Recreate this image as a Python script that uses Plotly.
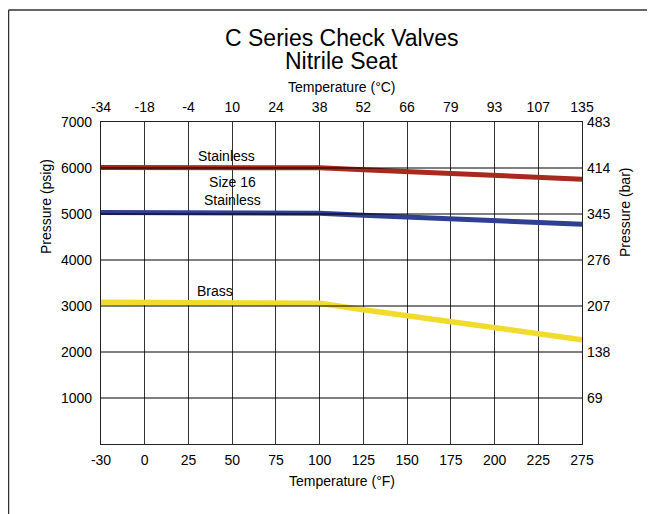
import plotly.graph_objects as go

# ---- data ----
temps_f = ["-30", "0", "25", "50", "75", "100", "125", "150", "175", "200", "225", "275"]
temps_c = ["-34", "-18", "-4", "10", "24", "38", "52", "66", "79", "93", "107", "135"]
psig_ticks = [1000, 2000, 3000, 4000, 5000, 6000, 7000]
bar_labels = ["69", "138", "207", "276", "345", "414", "483"]

stainless = [6010, 6010, 6010, 6010, 6010, 6005, 5963, 5922, 5880, 5838, 5797, 5755]
size16_stainless = [5032, 5032, 5031, 5030, 5028, 5015, 4975, 4936, 4896, 4857, 4817, 4778]
brass = [3080, 3075, 3070, 3066, 3062, 3058, 2920, 2785, 2650, 2515, 2390, 2268]

OFF = 8  # default page body margin
W, H = 655 - OFF, 514 - OFF
L, T = 101 - OFF, 122 - OFF
pw, ph = 481, 322
R, B = W - L - pw, H - T - ph

def px(x):  # page pixel -> paper x
    return (x - OFF - L) / pw

def py(y):  # page pixel -> paper y
    return (T + ph - (y - OFF)) / ph

FONT = "Liberation Sans, Arial, Helvetica, sans-serif"
FS = 14

fig = go.Figure()
fig.add_trace(go.Scatter(x=temps_f, y=brass, mode="lines", name="Brass",
                         line=dict(color="#F1DC2E", width=5.5), hoverinfo="skip"))
fig.add_trace(go.Scatter(x=temps_f, y=size16_stainless, mode="lines", name="Size 16 Stainless",
                         line=dict(color="#2F3F92", width=5), hoverinfo="skip"))
fig.add_trace(go.Scatter(x=temps_f, y=stainless, mode="lines", name="Stainless",
                         line=dict(color="#A8291D", width=5), hoverinfo="skip"))
# invisible helper trace so the secondary (°C / bar) axes render
fig.add_trace(go.Scatter(x=list(range(len(temps_c))), y=stainless, xaxis="x2", yaxis="y2",
                         mode="lines", line=dict(width=0), hoverinfo="skip", showlegend=False))

n = len(temps_f)
tf = dict(family=FONT, size=FS, color="black")

fig.update_layout(
    width=W, height=H,
    margin=dict(l=L, r=R, t=T, b=B, pad=0, autoexpand=False),
    paper_bgcolor="white", plot_bgcolor="white",
    showlegend=False,
    font=dict(family=FONT, size=FS, color="black"),
    xaxis=dict(type="category", categoryorder="array", categoryarray=temps_f,
               range=[0, n - 1], showgrid=True, gridcolor="#333", gridwidth=1.2,
               showline=True, linecolor="#222", linewidth=1.3, mirror=True, ticks="",
               zeroline=False, tickfont=tf, automargin=False, ticklabelstandoff=3),
    yaxis=dict(range=[0, 7000], tickvals=psig_ticks, showgrid=False,
               showline=True, linecolor="#222", linewidth=1.3, mirror=True, ticks="",
               zeroline=False, tickfont=tf, automargin=False, ticklabelstandoff=5),
    xaxis2=dict(overlaying="x", side="top", anchor="y", range=[0, n - 1],
                tickvals=list(range(len(temps_c))), ticktext=temps_c,
                showgrid=False, showline=False, ticks="", zeroline=False,
                tickfont=tf, automargin=False, ticklabelstandoff=6),
    yaxis2=dict(overlaying="y", side="right", anchor="x", range=[0, 7000],
                tickvals=psig_ticks, ticktext=bar_labels, showgrid=False,
                showline=False, ticks="", zeroline=False,
                tickfont=tf, automargin=False, ticklabelstandoff=4),
)

shapes = []
# horizontal grid lines drawn above the series
for v in psig_ticks[:-1]:
    shapes.append(dict(type="line", xref="paper", yref="y", x0=0, x1=1, y0=v, y1=v,
                       line=dict(color="black", width=1), layer="above"))
# outer frame (top + left edges)
shapes.append(dict(type="line", xref="paper", yref="paper", x0=px(8.5), x1=px(700),
                   y0=py(10), y1=py(10), line=dict(color="#333", width=1.5)))
shapes.append(dict(type="line", xref="paper", yref="paper", x0=px(8.5), x1=px(8.5),
                   y0=py(10), y1=py(560), line=dict(color="#333", width=1.5)))
fig.update_layout(shapes=shapes)

ann = []
ann.append(dict(text="C Series Check Valves", xref="paper", yref="paper", x=0.5, y=py(38),
                showarrow=False, font=dict(family=FONT, size=23, color="black"),
                xanchor="center", yanchor="middle"))
ann.append(dict(text="Nitrile Seat", xref="paper", yref="paper", x=0.5, y=py(61),
                showarrow=False, font=dict(family=FONT, size=23, color="black"),
                xanchor="center", yanchor="middle"))
ann.append(dict(text="Temperature (°C)", xref="paper", yref="paper", x=0.5, y=py(87),
                showarrow=False, font=dict(family=FONT, size=FS), xanchor="center", yanchor="middle"))
ann.append(dict(text="Temperature (°F)", xref="paper", yref="paper", x=0.5, y=py(481),
                showarrow=False, font=dict(family=FONT, size=FS), xanchor="center", yanchor="middle"))
ann.append(dict(text="Pressure (psig)", xref="paper", yref="paper", x=px(46), y=py(207),
                textangle=-90, showarrow=False, font=dict(family=FONT, size=FS),
                xanchor="center", yanchor="middle"))
ann.append(dict(text="Pressure (bar)", xref="paper", yref="paper", x=px(625), y=py(213),
                textangle=-90, showarrow=False, font=dict(family=FONT, size=FS),
                xanchor="center", yanchor="middle"))
# series labels
ann.append(dict(text="Stainless", xref="x", yref="y", x=2.88, y=6260, showarrow=False,
                font=dict(family=FONT, size=FS), xanchor="center", yanchor="middle"))
ann.append(dict(text="Size 16<br>Stainless", xref="x", yref="y", x=3.0, y=5500, showarrow=False,
                font=dict(family=FONT, size=FS), xanchor="center", yanchor="middle"))
ann.append(dict(text="Brass", xref="x", yref="y", x=2.6, y=3330, showarrow=False,
                font=dict(family=FONT, size=FS), xanchor="center", yanchor="middle"))
fig.update_layout(annotations=ann)

fig.write_html("out.html")
